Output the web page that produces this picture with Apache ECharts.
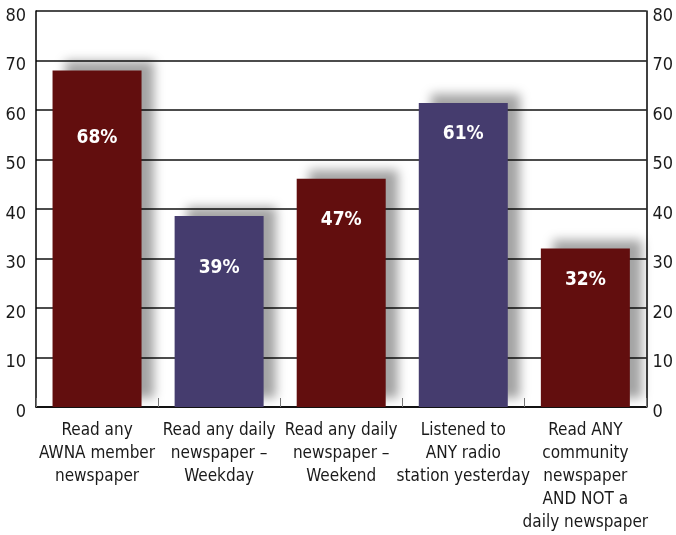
<!DOCTYPE html>
<html>
<head>
<meta charset="utf-8">
<script src="https://cdn.jsdelivr.net/npm/echarts@6/dist/echarts.min.js"></script>
<style>
html,body{margin:0;padding:0;background:#fff;}
#chart{width:676px;height:535px;}
</style>
</head>
<body>
<div id="chart"></div>
<script>
var categories = [
  "Read any\nAWNA member\nnewspaper",
  "Read any daily\nnewspaper \u2013\nWeekday",
  "Read any daily\nnewspaper \u2013\nWeekend",
  "Listened to\nANY radio\nstation yesterday",
  "Read ANY\ncommunity\nnewspaper\nAND NOT a\ndaily newspaper"
];
var values = [68, 38.6, 46.1, 61.4, 32];
var valueLabels = ["68%", "39%", "47%", "61%", "32%"];
var yTicks = [0, 10, 20, 30, 40, 50, 60, 70, 80];

var barColors = ["#620e0e", "#453c6e", "#620e0e", "#453c6e", "#620e0e"];
var labelDistances = [58, 43, 32, 21, 22];

var chart = echarts.init(document.getElementById('chart'), null, {renderer: 'canvas'});
var FONT = '"DejaVu Sans Condensed", "Liberation Sans Narrow", sans-serif';

var axisLabelCommon = {
  fontFamily: FONT,
  fontSize: 18,
  color: '#1a1a1a',
  verticalAlign: 'top',
  lineHeight: 10,
  formatter: function (v) { return yTicks.indexOf(v) >= 0 ? String(v) : ''; }
};

var option = {
  animation: false,
  backgroundColor: '#ffffff',
  grid: {left: 36, right: 28, top: 11, bottom: 128, containLabel: false},
  xAxis: {
    type: 'category',
    data: categories,
    boundaryGap: true,
    axisLine: {show: true, lineStyle: {color: '#000', width: 1.5}},
    axisTick: {show: true, inside: true, length: 9, interval: 0, lineStyle: {color: '#777', width: 1}},
    axisLabel: {
      interval: 0,
      margin: 12,
      fontFamily: FONT,
      fontSize: 17,
      lineHeight: 23,
      color: '#1a1a1a',
      align: 'center'
    },
    splitLine: {show: false}
  },
  yAxis: [
    {
      type: 'value', min: 0, max: 80, interval: 10, position: 'left',
      axisLine: {show: true, lineStyle: {color: '#000', width: 1.5}},
      axisTick: {show: false},
      axisLabel: Object.assign({margin: 10}, axisLabelCommon),
      splitLine: {show: true, lineStyle: {color: '#111', width: 1.5}}
    },
    {
      type: 'value', min: 0, max: 80, interval: 10, position: 'right',
      axisLine: {show: true, lineStyle: {color: '#000', width: 1.5}},
      axisTick: {show: false},
      axisLabel: Object.assign({margin: 6}, axisLabelCommon),
      splitLine: {show: false}
    }
  ],
  series: [{
    type: 'bar',
    yAxisIndex: 0,
    barWidth: 89,
    data: values.map(function (v, i) {
      return {
        value: v,
        itemStyle: {color: barColors[i]},
        label: {distance: labelDistances[i]}
      };
    }),
    itemStyle: {
      shadowColor: 'rgba(0,0,0,0.36)',
      shadowBlur: 10,
      shadowOffsetX: 12,
      shadowOffsetY: -9
    },
    label: {
      show: true,
      position: 'insideTop',
      fontFamily: FONT,
      fontWeight: 'bold',
      fontSize: 19,
      color: '#ffffff',
      formatter: function (p) { return valueLabels[p.dataIndex]; }
    }
  }]
};
chart.setOption(option);
</script>
</body>
</html>
